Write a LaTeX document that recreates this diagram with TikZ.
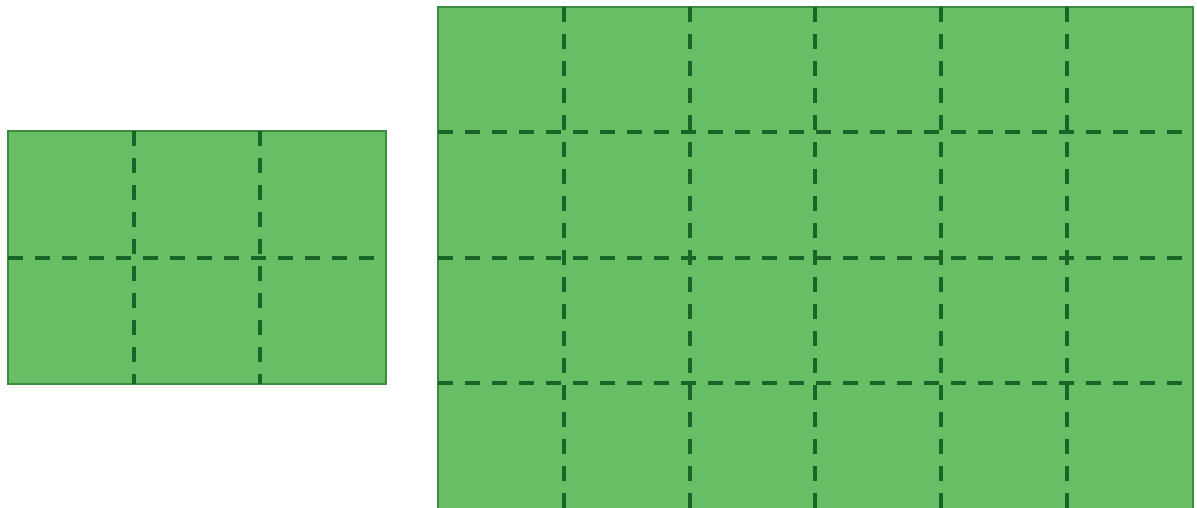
\documentclass[tikz,border=0pt]{standalone}
\begin{document}
\begin{tikzpicture}[x=1pt,y=-1pt,
  board/.style={fill=boardfill,draw=boardedge,line width=2pt},
  gridline/.style={draw=griddark,line width=4pt,dash pattern=on 15pt off 12pt}]
\definecolor{boardfill}{RGB}{104,190,100}
\definecolor{boardedge}{RGB}{58,140,62}
\definecolor{griddark}{RGB}{26,100,40}
\useasboundingbox (0,0) rectangle (1197,508);
\fill[white] (0,0) rectangle (1197,508);
% left board 3x2
\draw[board] (8,131) rectangle (386,384);
\foreach \x in {134,260} \draw[gridline] (\x,131) -- (\x,384);
\draw[gridline] (8,257.5) -- (386,257.5);
% right board 6x4
\draw[board] (438,7) rectangle (1193,509);
\foreach \i in {1,...,5} \draw[gridline] ({438+\i*125.83},7) -- ({438+\i*125.83},508);
\foreach \j in {1,2,3} \draw[gridline] (438,{7+\j*125.25}) -- (1193,{7+\j*125.25});
\end{tikzpicture}
\end{document}
